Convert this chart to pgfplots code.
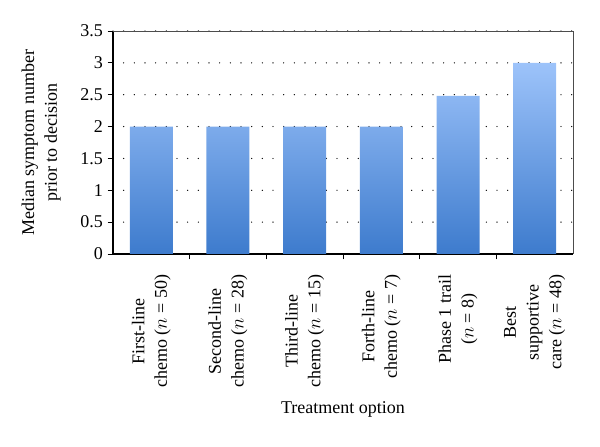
\documentclass[border=0pt]{standalone}
\usepackage{fontspec}
\setmainfont{Liberation Serif}
\usepackage{pgfplots}
\pgfplotsset{compat=1.18}
\definecolor{bartop}{HTML}{9DC3FA}
\definecolor{barbot}{HTML}{3D7BCD}
\begin{document}
\begin{tikzpicture}
\begin{axis}[
  name=ax,
  scale only axis,
  width=345pt, height=167.25pt,
  xmin=0.5, xmax=6.5,
  ymin=0, ymax=3.5,
  ytick={0,0.5,...,3.5},
  yticklabels={0,0.5,1,1.5,2,2.5,3,3.5},
  xtick={1,2,3,4,5,6},
  xticklabels={First-line\\chemo ($n$ = 50),Second-line\\chemo ($n$ = 28),Third-line\\chemo ($n$ = 15),Forth-line\\chemo ($n$ = 7),Phase 1 trail\\($n$ = 8),Best\\supportive\\care ($n$ = 48)},
  major x tick style={draw=none},
  minor xtick={1.5,2.5,3.5,4.5,5.5},
  minor x tick style={black, line width=0.6pt},
  minor tick length=4pt,
  major tick length=4pt,
  tick align=outside,
  axis x line*=bottom,
  axis y line*=left,
  axis line style={black, line width=0.8pt, -},
  ytick style={black, line width=0.6pt},
  ymajorgrids,
  grid style={black, line width=1pt, line cap=round, dash pattern=on 0pt off 8pt},
  /pgf/number format/assume math mode=true,
  tick label style={font=\fontsize{13.5}{16.5}\selectfont},
  xticklabel style={rotate=90, anchor=east, align=center, font=\fontsize{13.5}{17}\selectfont, xshift=-8pt},
  label style={font=\fontsize{13.5}{17}\selectfont},
  xlabel={Treatment option},
  ylabel={Median symptom number\\prior to decision},
  ylabel style={align=center, yshift=8pt},
  xlabel style={yshift=-4pt},
  clip=false,
]
\addplot[ybar, bar width=32.25pt, draw=none, top color=bartop, bottom color=barbot]
  coordinates {(1,2) (2,2) (3,2) (4,2) (5,2.48) (6,3)};
\draw[black!70, line width=0.6pt] (rel axis cs:0,1) -- (rel axis cs:1,1) -- (rel axis cs:1,0);
\end{axis}
\path (ax.south west) ++(-84.75pt,-144.75pt) coordinate (bbl);
\path (ax.north east) ++(20.25pt,23.25pt) coordinate (btr);
\path (bbl) rectangle (btr);
\end{tikzpicture}
\end{document}
